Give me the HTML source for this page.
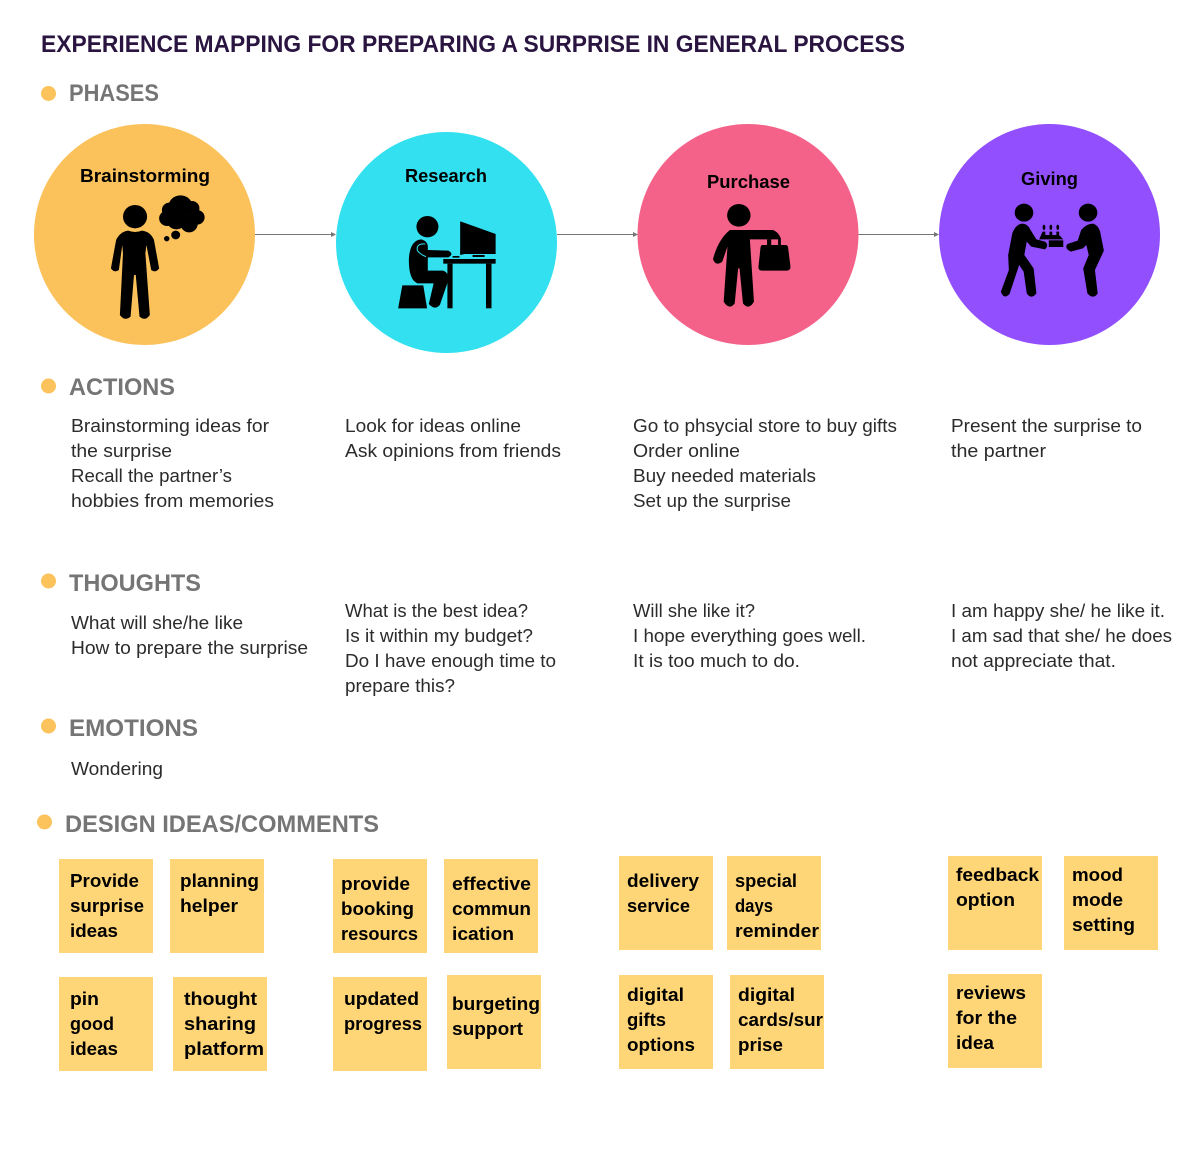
<!DOCTYPE html>
<html lang="en">
<head>
<meta charset="utf-8">
<title>Experience mapping for preparing a surprise</title>
<style>
html,body{margin:0;padding:0;background:#fff;width:1194px;height:1153px;overflow:hidden}
svg{display:block}
text{font-family:"Liberation Sans",sans-serif}
.title{font-size:24px;font-weight:700;fill:#2a1440}
.head{font-size:24px;font-weight:700;fill:#757575}
.body{font-size:18.5px;fill:#2b2b2b}
.note{font-size:18.5px;font-weight:700;fill:#000}
.phase{font-size:18.5px;font-weight:700;fill:#000}
.dot{fill:#fcc25b}
.sticky{fill:#ffd677}
.arrow{stroke:#757575;stroke-width:1;fill:none}
.arrowhead{fill:#757575}
</style>
</head>
<body>
<svg width="1194" height="1153" viewBox="0 0 1194 1153" xmlns="http://www.w3.org/2000/svg">
<text class="title" x="41" y="52" textLength="864" lengthAdjust="spacingAndGlyphs">EXPERIENCE MAPPING FOR PREPARING A SURPRISE IN GENERAL PROCESS</text>

<circle class="dot" cx="48.5" cy="93.5" r="7.5"/>
<text class="head" x="69" y="101" textLength="90" lengthAdjust="spacingAndGlyphs">PHASES</text>
<circle class="dot" cx="48.5" cy="386" r="7.5"/>
<text class="head" x="69" y="395" textLength="106" lengthAdjust="spacingAndGlyphs">ACTIONS</text>
<circle class="dot" cx="48.5" cy="581" r="7.5"/>
<text class="head" x="69" y="591" textLength="132" lengthAdjust="spacingAndGlyphs">THOUGHTS</text>
<circle class="dot" cx="48.5" cy="726" r="7.5"/>
<text class="head" x="69" y="736" textLength="129" lengthAdjust="spacingAndGlyphs">EMOTIONS</text>
<circle class="dot" cx="44.5" cy="822" r="7.5"/>
<text class="head" x="65" y="832" textLength="314" lengthAdjust="spacingAndGlyphs">DESIGN IDEAS/COMMENTS</text>

<g>
<path class="arrow" d="M255 234.5H332"/>
<path class="arrowhead" d="M331 232L336 234.5L331 237Z"/>
<path class="arrow" d="M557 234.5H634"/>
<path class="arrowhead" d="M633 232L638 234.5L633 237Z"/>
<path class="arrow" d="M858 234.5H935"/>
<path class="arrowhead" d="M934 232L939 234.5L934 237Z"/>
</g>

<circle cx="144.5" cy="234.5" r="110.5" fill="#fbc15a"/>
<circle cx="446.5" cy="242.5" r="110.5" fill="#32e0ef"/>
<circle cx="748" cy="234.5" r="110.5" fill="#f4628a"/>
<circle cx="1049.5" cy="234.5" r="110.5" fill="#924ffe"/>

<text class="phase" x="80" y="182" textLength="130" lengthAdjust="spacingAndGlyphs">Brainstorming</text>
<text class="phase" x="405" y="182" textLength="82" lengthAdjust="spacingAndGlyphs">Research</text>
<text class="phase" x="707" y="188" textLength="83" lengthAdjust="spacingAndGlyphs">Purchase</text>
<text class="phase" x="1021" y="185" textLength="57" lengthAdjust="spacingAndGlyphs">Giving</text>

<g transform="translate(30 120) scale(.3444 .3333)" fill="#000">
<circle cx="305" cy="290" r="35"/>
<path d="M250 360Q262 335 285 332Q305 340 325 332Q350 335 360 360L375 445Q365 460 352 450L338 375L335 400L348 585Q335 605 318 590L307 465H302L292 590Q275 605 261 585L270 400L268 375L258 450Q245 460 235 445Z"/>
<circle cx="437" cy="262" r="36"/><circle cx="405" cy="270" r="22"/><circle cx="398" cy="295" r="23"/><circle cx="470" cy="265" r="22"/><circle cx="485" cy="292" r="22"/><circle cx="462" cy="312" r="25"/><circle cx="425" cy="300" r="28"/>
<circle cx="423" cy="345" r="13"/><circle cx="397" cy="356" r="8"/>
</g>

<g transform="translate(30 120) scale(.3444 .3333)" fill="#000">
<circle cx="1154" cy="320" r="32"/>
<path d="M1100 420Q1102 362 1135 358Q1158 362 1155 390L1215 392Q1232 402 1215 412L1155 412V452H1200Q1218 460 1215 480L1190 555Q1175 572 1158 552L1172 490H1125Q1100 480 1100 420Z"/>
<path d="M1148 372Q1120 370 1125 392Q1135 405 1150 410" fill="none" stroke="#32e0ef" stroke-width="3"/>
<path d="M1249 304L1260 308L1352 342V402H1262L1249 405Z"/>
<rect x="1285" y="405" width="35" height="6"/><rect x="1227" y="408" width="20" height="5"/>
<rect x="1200" y="417" width="152" height="14"/><rect x="1212" y="431" width="15" height="134"/><rect x="1324" y="431" width="16" height="134"/>
<path d="M1081 496H1142L1153 565H1069Z"/>
</g>

<g transform="translate(630 120) scale(.3444 .3333)" fill="#000">
<circle cx="316" cy="286" r="34"/>
<path d="M290 330H415Q430 335 438 355V376H430V358H348L360 545Q345 572 328 550L318 445H314L304 550Q288 572 272 545L283 380L268 425Q250 440 241 418Q255 360 290 330Z"/>
<rect x="398" y="358" width="12" height="18"/>
<path d="M385 375H452Q458 375 459 382L466 440Q466 452 455 452H383Q372 452 373 440L379 382Q380 375 385 375Z"/>
</g>

<g transform="translate(630 120) scale(.3444 .3333)" fill="#000">
<circle cx="1144" cy="278" r="27"/><circle cx="1330" cy="278" r="27"/>
<path d="M1110 340Q1120 312 1140 311Q1155 312 1162 328L1180 358L1205 365Q1218 375 1205 388L1165 380L1152 365L1145 405L1172 445L1180 520Q1165 540 1152 520L1143 455L1130 435L1102 522Q1085 540 1077 515L1100 450L1098 405Z"/>
<path d="M1310 330Q1325 311 1345 311Q1360 316 1365 335L1376 392L1350 450L1358 520Q1345 540 1328 520L1316 445L1332 405L1325 375L1315 385L1280 395Q1260 385 1270 372L1300 362Z"/>
<path d="M1198 335H1206V345H1218V335H1226V345H1238V335H1246V345L1258 358H1188Z"/>
<rect x="1216" y="361" width="42" height="20"/>
<ellipse cx="1202" cy="322" rx="4" ry="8"/><ellipse cx="1222" cy="322" rx="4" ry="8"/><ellipse cx="1242" cy="322" rx="4" ry="8"/>
</g>

<g>
<text class="body" x="71" y="432" textLength="198" lengthAdjust="spacingAndGlyphs">Brainstorming ideas for</text>
<text class="body" x="71" y="457" textLength="101" lengthAdjust="spacingAndGlyphs">the surprise</text>
<text class="body" x="71" y="482" textLength="161" lengthAdjust="spacingAndGlyphs">Recall the partner’s</text>
<text class="body" x="71" y="507" textLength="203" lengthAdjust="spacingAndGlyphs">hobbies from memories</text>
</g>
<g>
<text class="body" x="345" y="432" textLength="176" lengthAdjust="spacingAndGlyphs">Look for ideas online</text>
<text class="body" x="345" y="457" textLength="216" lengthAdjust="spacingAndGlyphs">Ask opinions from friends</text>
</g>
<g>
<text class="body" x="633" y="432" textLength="264" lengthAdjust="spacingAndGlyphs">Go to phsycial store to buy gifts</text>
<text class="body" x="633" y="457" textLength="107" lengthAdjust="spacingAndGlyphs">Order online</text>
<text class="body" x="633" y="482" textLength="183" lengthAdjust="spacingAndGlyphs">Buy needed materials</text>
<text class="body" x="633" y="507" textLength="158" lengthAdjust="spacingAndGlyphs">Set up the surprise</text>
</g>
<g>
<text class="body" x="951" y="432" textLength="191" lengthAdjust="spacingAndGlyphs">Present the surprise to</text>
<text class="body" x="951" y="457" textLength="95" lengthAdjust="spacingAndGlyphs">the partner</text>
</g>

<g>
<text class="body" x="71" y="629" textLength="172" lengthAdjust="spacingAndGlyphs">What will she/he like</text>
<text class="body" x="71" y="654" textLength="237" lengthAdjust="spacingAndGlyphs">How to prepare the surprise</text>
</g>
<g>
<text class="body" x="345" y="617" textLength="183" lengthAdjust="spacingAndGlyphs">What is the best idea?</text>
<text class="body" x="345" y="642" textLength="188" lengthAdjust="spacingAndGlyphs">Is it within my budget?</text>
<text class="body" x="345" y="667" textLength="211" lengthAdjust="spacingAndGlyphs">Do I have enough time to</text>
<text class="body" x="345" y="692" textLength="110" lengthAdjust="spacingAndGlyphs">prepare this?</text>
</g>
<g>
<text class="body" x="633" y="617" textLength="122" lengthAdjust="spacingAndGlyphs">Will she like it?</text>
<text class="body" x="633" y="642" textLength="233" lengthAdjust="spacingAndGlyphs">I hope everything goes well.</text>
<text class="body" x="633" y="667" textLength="167" lengthAdjust="spacingAndGlyphs">It is too much to do.</text>
</g>
<g>
<text class="body" x="951" y="617" textLength="214" lengthAdjust="spacingAndGlyphs">I am happy she/ he like it.</text>
<text class="body" x="951" y="642" textLength="221" lengthAdjust="spacingAndGlyphs">I am sad that she/ he does</text>
<text class="body" x="951" y="667" textLength="165" lengthAdjust="spacingAndGlyphs">not appreciate that.</text>
</g>

<text class="body" x="71" y="775" textLength="92" lengthAdjust="spacingAndGlyphs">Wondering</text>

<g>
<rect class="sticky" x="59" y="859" width="94" height="94"/>
<text class="note" x="70" y="887" textLength="69" lengthAdjust="spacingAndGlyphs">Provide</text>
<text class="note" x="70" y="912" textLength="74" lengthAdjust="spacingAndGlyphs">surprise</text>
<text class="note" x="70" y="937" textLength="48" lengthAdjust="spacingAndGlyphs">ideas</text>
</g>
<g>
<rect class="sticky" x="170" y="859" width="94" height="94"/>
<text class="note" x="180" y="887" textLength="79" lengthAdjust="spacingAndGlyphs">planning</text>
<text class="note" x="180" y="912" textLength="58" lengthAdjust="spacingAndGlyphs">helper</text>
</g>
<g>
<rect class="sticky" x="333" y="859" width="94" height="94"/>
<text class="note" x="341" y="890" textLength="69" lengthAdjust="spacingAndGlyphs">provide</text>
<text class="note" x="341" y="915" textLength="73" lengthAdjust="spacingAndGlyphs">booking</text>
<text class="note" x="341" y="940" textLength="77" lengthAdjust="spacingAndGlyphs">resourcs</text>
</g>
<g>
<rect class="sticky" x="444" y="859" width="94" height="94"/>
<text class="note" x="452" y="890" textLength="79" lengthAdjust="spacingAndGlyphs">effective</text>
<text class="note" x="452" y="915" textLength="79" lengthAdjust="spacingAndGlyphs">commun</text>
<text class="note" x="452" y="940" textLength="62" lengthAdjust="spacingAndGlyphs">ication</text>
</g>
<g>
<rect class="sticky" x="619" y="856" width="94" height="94"/>
<text class="note" x="627" y="887" textLength="72" lengthAdjust="spacingAndGlyphs">delivery</text>
<text class="note" x="627" y="912" textLength="63" lengthAdjust="spacingAndGlyphs">service</text>
</g>
<g>
<rect class="sticky" x="727" y="856" width="94" height="94"/>
<text class="note" x="735" y="887" textLength="62" lengthAdjust="spacingAndGlyphs">special</text>
<text class="note" x="735" y="912" textLength="38" lengthAdjust="spacingAndGlyphs">days</text>
<text class="note" x="735" y="937" textLength="84" lengthAdjust="spacingAndGlyphs">reminder</text>
</g>
<g>
<rect class="sticky" x="948" y="856" width="94" height="94"/>
<text class="note" x="956" y="881" textLength="83" lengthAdjust="spacingAndGlyphs">feedback</text>
<text class="note" x="956" y="906" textLength="59" lengthAdjust="spacingAndGlyphs">option</text>
</g>
<g>
<rect class="sticky" x="1064" y="856" width="94" height="94"/>
<text class="note" x="1072" y="881" textLength="51" lengthAdjust="spacingAndGlyphs">mood</text>
<text class="note" x="1072" y="906" textLength="51" lengthAdjust="spacingAndGlyphs">mode</text>
<text class="note" x="1072" y="931" textLength="63" lengthAdjust="spacingAndGlyphs">setting</text>
</g>
<g>
<rect class="sticky" x="59" y="977" width="94" height="94"/>
<text class="note" x="70" y="1005" textLength="29" lengthAdjust="spacingAndGlyphs">pin</text>
<text class="note" x="70" y="1030" textLength="44" lengthAdjust="spacingAndGlyphs">good</text>
<text class="note" x="70" y="1055" textLength="48" lengthAdjust="spacingAndGlyphs">ideas</text>
</g>
<g>
<rect class="sticky" x="173" y="977" width="94" height="94"/>
<text class="note" x="184" y="1005" textLength="73" lengthAdjust="spacingAndGlyphs">thought</text>
<text class="note" x="184" y="1030" textLength="72" lengthAdjust="spacingAndGlyphs">sharing</text>
<text class="note" x="184" y="1055" textLength="80" lengthAdjust="spacingAndGlyphs">platform</text>
</g>
<g>
<rect class="sticky" x="333" y="977" width="94" height="94"/>
<text class="note" x="344" y="1005" textLength="75" lengthAdjust="spacingAndGlyphs">updated</text>
<text class="note" x="344" y="1030" textLength="78" lengthAdjust="spacingAndGlyphs">progress</text>
</g>
<g>
<rect class="sticky" x="447" y="975" width="94" height="94"/>
<text class="note" x="452" y="1010" textLength="88" lengthAdjust="spacingAndGlyphs">burgeting</text>
<text class="note" x="452" y="1035" textLength="71" lengthAdjust="spacingAndGlyphs">support</text>
</g>
<g>
<rect class="sticky" x="619" y="975" width="94" height="94"/>
<text class="note" x="627" y="1001" textLength="57" lengthAdjust="spacingAndGlyphs">digital</text>
<text class="note" x="627" y="1026" textLength="39" lengthAdjust="spacingAndGlyphs">gifts</text>
<text class="note" x="627" y="1051" textLength="68" lengthAdjust="spacingAndGlyphs">options</text>
</g>
<g>
<rect class="sticky" x="730" y="975" width="94" height="94"/>
<text class="note" x="738" y="1001" textLength="57" lengthAdjust="spacingAndGlyphs">digital</text>
<text class="note" x="738" y="1026" textLength="85" lengthAdjust="spacingAndGlyphs">cards/sur</text>
<text class="note" x="738" y="1051" textLength="45" lengthAdjust="spacingAndGlyphs">prise</text>
</g>
<g>
<rect class="sticky" x="948" y="974" width="94" height="94"/>
<text class="note" x="956" y="999" textLength="70" lengthAdjust="spacingAndGlyphs">reviews</text>
<text class="note" x="956" y="1024" textLength="61" lengthAdjust="spacingAndGlyphs">for the</text>
<text class="note" x="956" y="1049" textLength="38" lengthAdjust="spacingAndGlyphs">idea</text>
</g>
</svg>
</body>
</html>
